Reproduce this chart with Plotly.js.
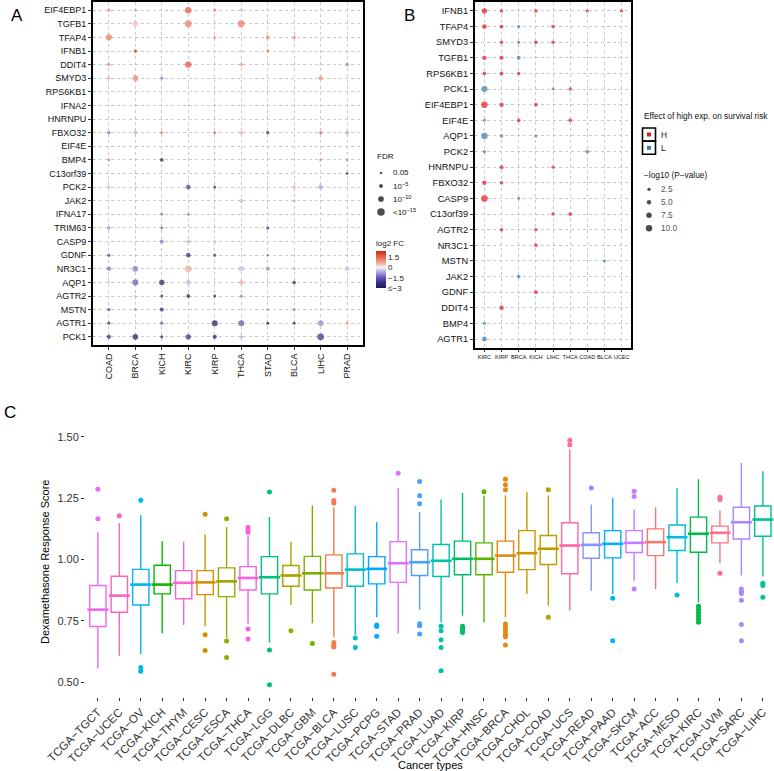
<!DOCTYPE html>
<html><head><meta charset="utf-8">
<script src="https://cdn.plot.ly/plotly-3.0.1.min.js"></script>
<style>html,body{margin:0;padding:0;background:#fff}#chart{width:774px;height:771px}</style>
</head><body><div id="chart"></div>
<script>
// ---------------- Panel A data ----------------
const cancersA = ['COAD','BRCA','KICH','KIRC','KIRP','THCA','STAD','BLCA','LIHC','PRAD'];
const genesA = ['EIF4EBP1','TGFB1','TFAP4','IFNB1','DDIT4','SMYD3','RPS6KB1','IFNA2','HNRNPU','FBXO32','EIF4E','BMP4','C13orf39','PCK2','JAK2','IFNA17','TRIM63','CASP9','GDNF','NR3C1','AQP1','AGTR2','MSTN','AGTR1','PCK1'];
// log2 FC per gene (rows) x cancer (cols); null = not significant
const fcA = [
  [1.0, 0.8, null, 1.8, 1.2, 0.6, 0.3, null, null, null],
  [null, 0.5, null, 1.3, 0.4, 1.3, null, null, null, null],
  [1.3, null, null, null, 0.8, null, 1.0, 1.0, null, null],
  [null, 2.2, null, null, null, 0.5, 1.6, null, null, null],
  [1.1, null, null, 1.8, null, 0.8, null, null, 0.4, -1.0],
  [0.7, 1.2, -1.2, null, null, null, null, null, 1.1, null],
  [null, null, null, null, null, null, null, null, null, null],
  [null, null, null, null, null, null, null, null, null, null],
  [null, null, null, null, null, null, null, null, null, null],
  [-1.5, -0.6, 1.5, null, 1.6, 0.6, -2.6, null, 1.9, -0.7],
  [null, null, null, null, null, null, null, null, null, null],
  [1.3, null, -2.5, null, null, null, null, null, 1.2, -0.7],
  [null, null, null, null, null, null, null, null, null, -3.0],
  [-0.5, 0.3, null, -2.2, -2.2, null, null, 0.7, -0.8, null],
  [null, null, null, null, null, -0.5, null, -0.6, null, null],
  [null, null, -1.2, -1.0, null, null, null, null, null, null],
  [-1.2, null, -1.6, null, null, null, -2.2, null, null, null],
  [null, null, -1.2, -0.5, -0.5, null, null, null, null, null],
  [-2.0, null, null, -2.5, -2.0, null, -1.3, null, null, null],
  [-1.2, -1.2, null, 0.7, null, -0.5, -1.0, -0.6, null, -0.5],
  [-0.4, -1.5, -3.0, -0.6, -0.3, 0.8, null, -3.0, null, null],
  [null, -0.6, -3.0, -3.0, -3.0, -1.2, null, null, null, null],
  [-2.0, -1.0, -2.5, null, null, null, -1.0, -1.2, null, -0.3],
  [-2.8, null, -1.5, null, -3.0, -1.6, -3.0, -3.0, -1.0, 1.0],
  [-3.0, -3.0, -3.0, -2.5, -3.0, -0.8, null, null, -2.3, null]
];
// -log10(FDR), capped at 15
const fdrA = [
  [4, 3, null, 12, 3, 3, 1.5, null, null, null],
  [null, 9, null, 13, 1.5, 13, null, null, null, null],
  [11, null, null, null, 4, null, 6, 5, null, null],
  [null, 4, null, null, null, 1.5, 2.5, null, null, null],
  [4, null, null, 12, null, 5, null, null, 1.5, 5],
  [4, 10, 3, null, null, null, null, null, 6, null],
  [null, null, null, null, null, null, null, null, null, null],
  [null, null, null, null, null, null, null, null, null, null],
  [null, null, null, null, null, null, null, null, null, null],
  [2.5, 5, 2.5, null, 2.5, 5, 3, null, 2.5, 5],
  [null, null, null, null, null, null, null, null, null, null],
  [2.5, null, 5, null, null, null, null, null, 2.5, 4],
  [null, null, null, null, null, null, null, null, null, 1.5],
  [4, 2, null, 7, 3, null, null, 4, 7, null],
  [null, null, null, null, null, 6, null, 3, null, null],
  [null, null, 2.5, 3, null, null, null, null, null, null],
  [3, null, 2, null, null, null, 3, null, null, null],
  [null, null, 6, 6, 3, null, null, null, null, null],
  [3, null, null, 7, 3, null, 1.5, null, null, null],
  [7, 10, null, 12, null, 9, 6, 3, null, 8],
  [1.5, 11, 9, 7, 1.3, 6, null, 4, null, null],
  [null, 1.5, 2.5, 5, 2.5, 3, null, null, null, null],
  [3, 2.5, 6, null, null, null, 2.5, 2, null, 1.5],
  [2.5, null, 4, null, 11, 10, 3, 2.5, 10, 3],
  [6, 10, 3, 9, 6, 3, null, null, 13, null]
];
const fdrLegendValues = [1.3, 5, 10, 15];
const fdrLegendLabels = ['0.05', '10<sup>−5</sup>', '10<sup>−10</sup>', '<10<sup>−15</sup>'];
const fcTickVals = [1.5, 0, -1.5, -3];
const fcTickText = ['1.5', '0', '−1.5', '≤−3'];

// ---------------- Panel B data ----------------
const cancersB = ['KIRC','KIRP','BRCA','KICH','LIHC','THCA','COAD','BLCA','UCEC'];
const genesB = ['IFNB1','TFAP4','SMYD3','TGFB1','RPS6KB1','PCK1','EIF4EBP1','EIF4E','AQP1','PCK2','HNRNPU','FBXO32','CASP9','C13orf39','AGTR2','NR3C1','MSTN','JAK2','GDNF','DDIT4','BMP4','AGTR1'];
const bGene   = ['IFNB1','IFNB1','IFNB1','IFNB1','IFNB1','TFAP4','TFAP4','TFAP4','TFAP4','SMYD3','SMYD3','SMYD3','SMYD3','TGFB1','TGFB1','TGFB1','RPS6KB1','RPS6KB1','RPS6KB1','PCK1','PCK1','PCK1','EIF4EBP1','EIF4EBP1','EIF4EBP1','EIF4E','EIF4E','EIF4E','AQP1','AQP1','AQP1','PCK2','PCK2','HNRNPU','HNRNPU','FBXO32','FBXO32','CASP9','CASP9','C13orf39','C13orf39','AGTR2','AGTR2','NR3C1','MSTN','JAK2','GDNF','DDIT4','BMP4','AGTR1'];
const bCancer = ['KIRC','KIRP','KICH','COAD','UCEC','KIRC','KIRP','BRCA','LIHC','KIRP','BRCA','KICH','LIHC','KIRC','KIRP','BRCA','KIRC','KIRP','BRCA','KIRC','LIHC','THCA','KIRC','KIRP','KICH','KIRC','BRCA','THCA','KIRC','KIRP','KICH','KIRC','COAD','KIRP','LIHC','KIRC','KIRP','KIRC','BRCA','LIHC','THCA','KIRP','KICH','KICH','BLCA','BRCA','KICH','KIRP','KIRC','KIRC'];
const bEffect = ['H','H','H','H','H','H','H','L','H','H','L','H','H','H','H','L','H','H','H','L','L','H','H','H','H','L','H','H','L','L','L','L','L','H','H','H','H','H','L','H','H','H','H','H','L','L','H','H','L','L'];
const bLogP   = [7,3,3,2,2,5.5,3.5,2,3,3,2,3,3,5,4.5,4,3.5,3.5,3,9,1.5,3,10,5,3.5,1.5,3.5,3.5,10,3,2,2,3.5,4,2,5,3,10,1.5,3,3.5,3,2.5,3,1.5,3.5,3.5,5,1.5,6];
const effectLevels = ['H','L'];
const pLegendValues = [2.5, 5.0, 7.5, 10.0];
const pLegendLabels = ['2.5','5.0','7.5','10.0'];

// ---------------- Panel C data ----------------
const typesC = ['TGCT','UCEC','OV','KICH','THYM','CESC','ESCA','THCA','LGG','DLBC','GBM','BLCA','LUSC','PCPG','STAD','PRAD','LUAD','KIRP','HNSC','BRCA','CHOL','COAD','UCS','READ','PAAD','SKCM','ACC','MESO','KIRC','UVM','SARC','LIHC'];
const lowerC  = [0.556,0.608,0.615,0.700,0.733,0.728,0.680,0.738,0.662,0.816,0.740,0.683,0.694,0.765,0.699,0.795,0.745,0.771,0.744,0.765,0.860,0.812,0.792,0.873,0.860,0.914,0.880,0.903,0.826,0.985,0.935,0.931];
const q1C     = [0.727,0.785,0.815,0.860,0.840,0.857,0.849,0.876,0.860,0.891,0.876,0.884,0.891,0.901,0.907,0.935,0.931,0.938,0.938,0.948,0.959,0.980,0.942,1.005,1.007,1.029,1.016,1.037,1.030,1.068,1.084,1.095];
const medianC = [0.796,0.853,0.898,0.898,0.905,0.907,0.911,0.925,0.928,0.935,0.944,0.944,0.959,0.962,0.985,0.989,0.995,1.003,1.003,1.016,1.026,1.044,1.057,1.060,1.064,1.068,1.071,1.091,1.105,1.109,1.152,1.163];
const q3C     = [0.894,0.932,0.960,0.977,0.955,0.955,0.966,0.971,1.012,0.976,1.013,1.019,1.023,1.012,1.073,1.040,1.061,1.075,1.068,1.075,1.118,1.098,1.150,1.109,1.118,1.118,1.125,1.141,1.173,1.136,1.213,1.218];
const upperC  = [1.111,1.148,1.180,1.075,1.072,1.102,1.132,1.098,1.173,1.072,1.220,1.213,1.218,1.152,1.293,1.193,1.245,1.271,1.260,1.261,1.275,1.261,1.448,1.224,1.252,1.203,1.213,1.291,1.327,1.200,1.393,1.360];
const outType = ['TGCT','TGCT','UCEC','OV','OV','OV','CESC','CESC','CESC','ESCA','ESCA','ESCA','THCA','THCA','THCA','THCA','THCA','LGG','LGG','LGG','DLBC','GBM','BLCA','BLCA','BLCA','BLCA','BLCA','BLCA','BLCA','LUSC','LUSC','PCPG','PCPG','PCPG','STAD','PRAD','PRAD','PRAD','PRAD','PRAD','PRAD','LUAD','LUAD','LUAD','LUAD','LUAD','KIRP','KIRP','KIRP','KIRP','HNSC','BRCA','BRCA','BRCA','BRCA','BRCA','BRCA','BRCA','BRCA','BRCA','COAD','COAD','UCS','UCS','READ','PAAD','PAAD','SKCM','SKCM','SKCM','MESO','KIRC','KIRC','KIRC','KIRC','KIRC','KIRC','UVM','UVM','UVM','SARC','SARC','SARC','SARC','SARC','SARC','LIHC','LIHC','LIHC'];
const outVal  = [1.286,1.166,1.178,1.242,0.560,0.545,1.185,0.694,0.629,1.166,0.668,0.601,1.132,1.120,1.111,0.717,0.676,1.275,0.631,0.490,0.710,0.658,1.282,1.241,1.230,0.662,0.652,0.644,0.533,0.680,0.642,0.733,0.727,0.687,1.352,1.318,1.260,1.227,0.738,0.730,0.697,0.728,0.710,0.673,0.642,0.547,0.728,0.720,0.712,0.703,1.276,1.327,1.305,1.284,0.737,0.725,0.712,0.698,0.685,0.652,1.284,0.765,1.486,1.468,1.291,0.842,0.669,1.278,1.257,0.880,0.856,0.810,0.797,0.783,0.770,0.757,0.745,1.254,1.245,0.944,0.880,0.870,0.862,0.834,0.735,0.669,0.903,0.894,0.846];
const yTicksC = [0.5, 0.75, 1.0, 1.25, 1.5];

// ---------------- helpers ----------------
const W = 774, H = 771;
const px = x => x / W;
const py = y => 1 - y / H;
const FONT = 'Liberation Sans, Arial, Helvetica, sans-serif';
const sizeA = v => 2 + 0.37 * v;
const sizeB = v => 2.3 + 0.42 * v;
const effectColor = {H: '#E41A1C', L: '#377EB8'};

function hcl(h, c, l) {
  const hr = h * Math.PI / 180;
  const U = c * Math.cos(hr), V = c * Math.sin(hr);
  const WX = 95.047, WY = 100, WZ = 108.883;
  const Y = WY * (l > 7.999592 ? Math.pow((l + 16) / 116, 3) : l / 903.3);
  const den = WX + 15 * WY + 3 * WZ;
  const un = 4 * WX / den, vn = 9 * WY / den;
  const u = U / (13 * l) + un, v = V / (13 * l) + vn;
  const X = 9 * Y * u / (4 * v);
  const Z = -X / 3 - 5 * Y + 3 * Y / v;
  const g = t => t > 0.00304 ? 1.055 * Math.pow(t, 1 / 2.4) - 0.055 : 12.92 * t;
  const cl = t => Math.round(255 * Math.max(0, Math.min(1, t)));
  const R = g((3.240479 * X - 1.537150 * Y - 0.498535 * Z) / WY);
  const G = g((-0.969256 * X + 1.875992 * Y + 0.041556 * Z) / WY);
  const B = g((0.055648 * X - 0.204043 * Y + 1.057311 * Z) / WY);
  return 'rgb(' + cl(R) + ',' + cl(G) + ',' + cl(B) + ')';
}
const alpha = typesC.slice().sort();
const colorOf = {};
alpha.forEach((t, i) => { colorOf[t] = hcl(15 + i * 360 / alpha.length, 100, 65); });
const labelC = t => 'TCGA−' + t;

const traces = [];

// ---------- Panel A trace ----------
const ax = [], ay = [], ac = [], as = [];
genesA.forEach((g, i) => cancersA.forEach((c, j) => {
  if (fcA[i][j] !== null) { ax.push(c); ay.push(g); ac.push(fcA[i][j]); as.push(sizeA(fdrA[i][j])); }
}));
traces.push({
  type: 'scatter', mode: 'markers', x: ax, y: ay, xaxis: 'x', yaxis: 'y',
  marker: {
    color: ac, size: as, cmin: -3, cmax: 2.4, line: {width: 0},
    colorscale: [[0, '#1b1c57'], [0.14, '#382c88'], [0.278, '#6654b8'], [0.42, '#ada2da'], [0.556, '#f6f3f3'], [0.69, '#f4a590'], [0.833, '#ea6550'], [1, '#d4281b']],
    showscale: true,
    colorbar: {
      x: px(376), xanchor: 'left', y: py(262.5), yanchor: 'middle',
      len: 51, lenmode: 'pixels', thickness: 10, thicknessmode: 'pixels',
      outlinewidth: 0, xpad: 0, ypad: 0, ticks: '', tickvals: fcTickVals, ticktext: fcTickText,
      tickfont: {size: 8, family: FONT, color: '#222'},
      title: {text: 'log2 FC', side: 'top', font: {size: 8, family: FONT, color: '#222'}}
    }
  },
  showlegend: false, hoverinfo: 'x+y'
});

// ---------- Panel B traces ----------
effectLevels.forEach(e => {
  const idx = bEffect.map((v, i) => v === e ? i : -1).filter(i => i >= 0);
  traces.push({
    type: 'scatter', mode: 'markers', xaxis: 'x2', yaxis: 'y2',
    x: idx.map(i => bCancer[i]), y: idx.map(i => bGene[i]),
    marker: {color: effectColor[e], size: idx.map(i => sizeB(bLogP[i])), line: {width: 0}},
    showlegend: false, hoverinfo: 'x+y'
  });
});

// ---------- Panel C traces ----------
typesC.forEach((t, i) => {
  traces.push({
    type: 'box', xaxis: 'x3', yaxis: 'y3', x: [labelC(t)],
    q1: [q1C[i]], median: [medianC[i]], q3: [q3C[i]], lowerfence: [lowerC[i]], upperfence: [upperC[i]],
    boxpoints: false, whiskerwidth: 0, width: 0.76,
    line: {color: colorOf[t], width: 1.4}, fillcolor: 'rgba(0,0,0,0)',
    showlegend: false, hoverinfo: 'skip'
  });
});
traces.push({
  type: 'scatter', mode: 'markers', xaxis: 'x3', yaxis: 'y3',
  x: typesC.map(labelC), y: medianC,
  marker: {symbol: 'line-ew', size: 15, line: {width: 2.6, color: typesC.map(t => colorOf[t])}},
  showlegend: false, hoverinfo: 'skip'
});
traces.push({
  type: 'scatter', mode: 'markers', xaxis: 'x3', yaxis: 'y3',
  x: outType.map(labelC), y: outVal,
  marker: {size: 5, color: outType.map(t => colorOf[t]), line: {width: 0}},
  showlegend: false, hoverinfo: 'y'
});

// ---------- Legend keys (pixel overlay axis) ----------
const fdrKeyX = 381, fdrKeyY0 = 173, fdrKeyStep = 13;
traces.push({
  type: 'scatter', mode: 'markers', xaxis: 'x9', yaxis: 'y9',
  x: fdrLegendValues.map(() => fdrKeyX), y: fdrLegendValues.map((v, i) => fdrKeyY0 + i * fdrKeyStep),
  marker: {color: '#000', size: fdrLegendValues.map(sizeA), line: {width: 0}},
  showlegend: false, hoverinfo: 'skip'
});
const effKeyX = 649, effKeyY0 = 134.5, effKeyStep = 13.3;
traces.push({
  type: 'scatter', mode: 'markers', xaxis: 'x9', yaxis: 'y9',
  x: effectLevels.map(() => effKeyX), y: effectLevels.map((e, i) => effKeyY0 + i * effKeyStep),
  marker: {symbol: 'square-open', size: 13, color: '#000', line: {width: 1.6, color: '#000'}},
  showlegend: false, hoverinfo: 'skip'
});
traces.push({
  type: 'scatter', mode: 'markers', xaxis: 'x9', yaxis: 'y9',
  x: effectLevels.map(() => effKeyX), y: effectLevels.map((e, i) => effKeyY0 + i * effKeyStep),
  marker: {symbol: 'square', size: 4, color: effectLevels.map(e => effectColor[e]), line: {width: 0}},
  showlegend: false, hoverinfo: 'skip'
});
const pKeyX = 649, pKeyY0 = 189.3, pKeyStep = 13;
traces.push({
  type: 'scatter', mode: 'markers', xaxis: 'x9', yaxis: 'y9',
  x: pLegendValues.map(() => pKeyX), y: pLegendValues.map((v, i) => pKeyY0 + i * pKeyStep),
  marker: {color: '#000', size: pLegendValues.map(sizeB), line: {width: 0}},
  showlegend: false, hoverinfo: 'skip'
});

// ---------- annotations ----------
const ann = [];
const txt = (x, y, text, size, opts) => Object.assign({
  xref: 'paper', yref: 'paper', x: px(x), y: py(y), text: text, showarrow: false,
  xanchor: 'left', yanchor: 'middle', font: {size: size, family: FONT, color: '#111'}
}, opts || {});
ann.push(txt(17, 15, 'A', 17, {xanchor: 'center', font: {size: 17, family: FONT, color: '#000'}}));
ann.push(txt(409, 15, 'B', 17, {xanchor: 'center', font: {size: 17, family: FONT, color: '#000'}}));
ann.push(txt(10, 412, 'C', 17, {xanchor: 'center', font: {size: 17, family: FONT, color: '#000'}}));
ann.push(txt(375, 157, 'FDR', 8));
fdrLegendLabels.forEach((l, i) => ann.push(txt(391, fdrKeyY0 + i * fdrKeyStep, l, 8)));
ann.push(txt(642, 116, 'Effect of high exp. on survival risk', 8.3));
effectLevels.forEach((e, i) => ann.push(txt(659, effKeyY0 + i * effKeyStep, e, 8.3)));
ann.push(txt(642, 175, '−log10 (P−value)', 8.3));
pLegendLabels.forEach((l, i) => ann.push(txt(659, pKeyY0 + i * pKeyStep, l, 8.3, {font: {size: 8.3, family: FONT, color: '#555'}})));
ann.push(txt(45, 562, 'Dexamethasone Response Score', 11, {xanchor: 'center', textangle: -90, font: {size: 11, family: FONT, color: '#000'}}));
ann.push(txt(430, 765, 'Cancer types', 11, {xanchor: 'center', font: {size: 11, family: FONT, color: '#000'}}));

// ---------- layout ----------
const gridAxis = {
  type: 'category', showgrid: true, gridcolor: '#bdbdbd', griddash: '3px,3px', gridwidth: 0.8,
  showline: true, linecolor: '#000', linewidth: 2, mirror: true, zeroline: false,
  ticks: 'outside', ticklen: 3, tickcolor: '#333', tickwidth: 1, fixedrange: true
};
const layout = {
  width: W, height: H, margin: {l: 0, r: 0, t: 0, b: 0},
  paper_bgcolor: '#fff', plot_bgcolor: 'rgba(0,0,0,0)', showlegend: false, boxmode: 'overlay',
  font: {family: FONT, color: '#222'},
  xaxis: Object.assign({}, gridAxis, {domain: [px(93), px(363)], range: [-0.6, 9.6], categoryorder: 'array', categoryarray: cancersA, tickangle: -90, tickfont: {size: 9, family: FONT, color: '#111'}, anchor: 'y'}),
  yaxis: Object.assign({}, gridAxis, {domain: [py(345), py(2)], range: [-0.6, 24.6], categoryorder: 'array', categoryarray: genesA.slice().reverse(), tickfont: {size: 9, family: FONT, color: '#111'}, anchor: 'x'}),
  xaxis2: Object.assign({}, gridAxis, {domain: [px(475), px(631)], range: [-0.55, 8.55], categoryorder: 'array', categoryarray: cancersB, tickangle: 0, ticklen: 2, tickfont: {size: 5.6, family: FONT, color: '#111'}, anchor: 'y2'}),
  yaxis2: Object.assign({}, gridAxis, {domain: [py(348.4), py(1.6)], range: [-0.6, 21.6], categoryorder: 'array', categoryarray: genesB.slice().reverse(), tickfont: {size: 9.3, family: FONT, color: '#111'}, anchor: 'x2'}),
  xaxis3: {domain: [px(85), 1], range: [-0.6, 31.52], type: 'category', categoryorder: 'array', categoryarray: typesC.map(labelC), tickangle: -45, ticks: 'outside', ticklen: 3, tickcolor: '#333', showgrid: false, showline: false, zeroline: false, tickfont: {size: 11.5, family: FONT, color: '#333'}, anchor: 'y3', fixedrange: true},
  yaxis3: {domain: [py(697), py(427)], range: [0.44, 1.54], tickvals: yTicksC, ticktext: yTicksC.map(v => v.toFixed(2)), ticks: 'outside', ticklen: 3, tickcolor: '#333', showgrid: false, showline: false, zeroline: false, tickfont: {size: 11, family: FONT, color: '#333'}, anchor: 'x3', fixedrange: true},
  xaxis9: {domain: [0, 1], range: [0, W], visible: false, anchor: 'y9', fixedrange: true},
  yaxis9: {domain: [0, 1], range: [H, 0], visible: false, anchor: 'x9', fixedrange: true},
  annotations: ann
};
Plotly.newPlot('chart', traces, layout, {staticPlot: true, displayModeBar: false});
</script></body></html>
